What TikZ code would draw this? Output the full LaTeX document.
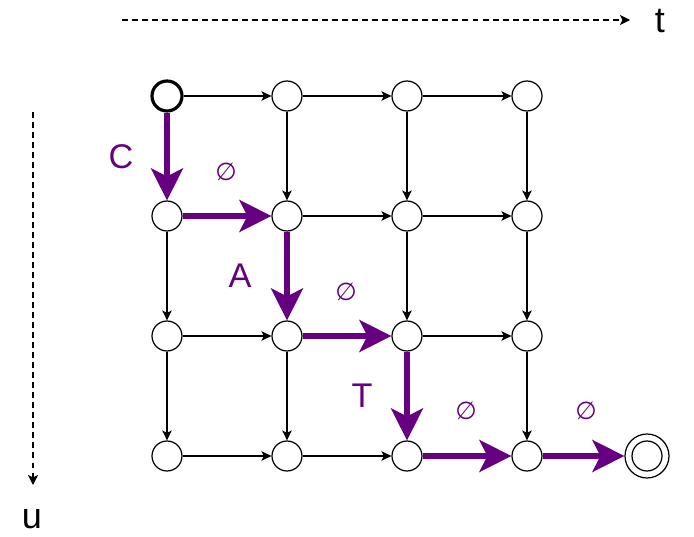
\documentclass[tikz,border=0pt]{standalone}
\usepackage{fontspec}
\setmainfont{Liberation Sans}
\newfontfamily\symfont{DejaVu Sans}
\usetikzlibrary{arrows.meta, positioning}
\definecolor{pathpurple}{HTML}{660080}

\begin{document}
\begin{tikzpicture}[
  x=0.02cm, y=-0.02cm,
  state/.style={circle, draw=black, line width=0.7pt, fill=white, minimum size=0.6cm, inner sep=0pt},
  n00/.style={line width=1.8pt},
  accept/.style={circle, draw=black, line width=0.7pt, fill=white, minimum size=0.88cm, inner sep=0pt,
    path picture={\draw[line width=0.7pt] (path picture bounding box.center) circle (0.3cm);}},
  flow/.style={-{Stealth[length=2mm, width=1.9mm, inset=0.5mm]}, line width=0.7pt, draw=black},
  pathway/.style={-{Stealth[length=0.64cm, width=0.64cm, inset=0.16cm]}, line width=2.9pt, draw=pathpurple},
  axis/.style={-{Stealth[length=2mm, width=2mm, inset=0.5mm]}, line width=0.7pt, dash pattern=on 3.4pt off 2.3pt},
  sym/.style={text=pathpurple, font=\fontsize{19.5}{22}\selectfont},
  empty/.style={text=pathpurple, font=\symfont\fontsize{14}{16}\selectfont},
  axlabel/.style={font=\fontsize{20.5}{24}\selectfont, anchor=base}
]
\path[use as bounding box] (0,0) rectangle (694,537);

% lattice of states
\foreach \r in {0,...,3}
  \foreach \c in {0,...,3}
    \node[state, n\r\c/.try] (n\r\c) at ({167+120*\c}, {96+120*\r}) {};
\node[accept] (fin) at (647,456) {};

% axes
\coordinate (t0) at (122,20);
\coordinate (t1) at (630,20);
\node[axlabel] (tl) at (660,33) {t};
\draw[axis] (t0) -- (t1);
\coordinate (u0) at (33,112);
\coordinate (u1) at (33,485);
\node[axlabel] (ul) at (32,528) {u};
\draw[axis] (u0) -- (u1);

% horizontal moves
\draw[flow] (n00) -- (n01);
\draw[flow] (n01) -- (n02);
\draw[flow] (n02) -- (n03);
\draw[flow] (n11) -- (n12);
\draw[flow] (n12) -- (n13);
\draw[flow] (n20) -- (n21);
\draw[flow] (n22) -- (n23);
\draw[flow] (n30) -- (n31);
\draw[flow] (n31) -- (n32);

% vertical moves
\draw[flow] (n10) -- (n20);
\draw[flow] (n20) -- (n30);
\draw[flow] (n01) -- (n11);
\draw[flow] (n21) -- (n31);
\draw[flow] (n02) -- (n12);
\draw[flow] (n12) -- (n22);
\draw[flow] (n03) -- (n13);
\draw[flow] (n13) -- (n23);
\draw[flow] (n23) -- (n33);

% best path
\draw[pathway] (n00) -- (n10);
\draw[pathway] (n10) -- (n11);
\draw[pathway] (n11) -- (n21);
\draw[pathway] (n21) -- (n22);
\draw[pathway] (n22) -- (n32);
\draw[pathway] (n32) -- (n33);
\draw[pathway] (n33) -- (fin);

\node[sym] (symC) at (121,157) {C};
\node[sym] (symA) at (240,276) {A};
\node[sym] (symT) at (362,396) {T};
\node[empty] (e1) at (226,172) {∅};
\node[empty] (e2) at (346,292) {∅};
\node[empty] (e3) at (466,411) {∅};
\node[empty] (e4) at (586,411) {∅};
\end{tikzpicture}
\end{document}
